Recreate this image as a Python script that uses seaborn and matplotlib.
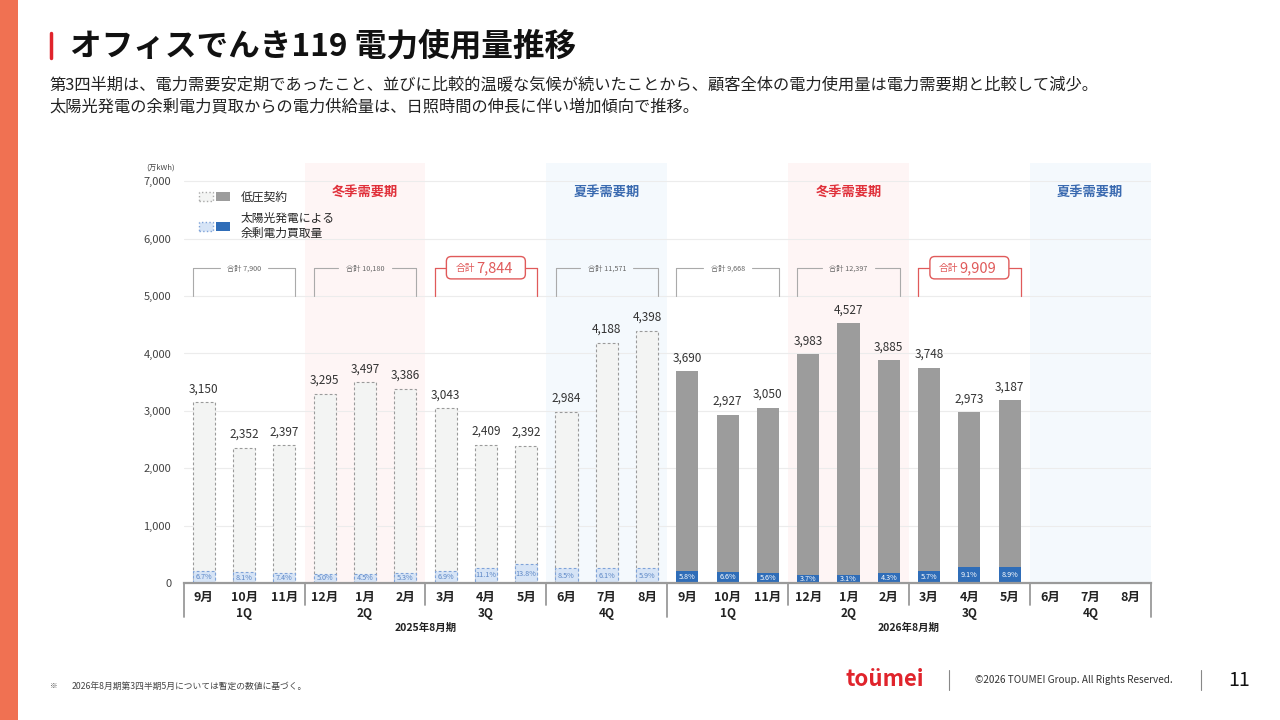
import numpy as np
import pandas as pd
import matplotlib.pyplot as plt
import seaborn as sns
from matplotlib.patches import Patch, Rectangle, FancyBboxPatch
from matplotlib.legend_handler import HandlerTuple
from matplotlib.lines import Line2D

# データ
months = ['9月', '10月', '11月', '12月', '1月', '2月', '3月', '4月', '5月', '6月', '7月', '8月']
quarters = ['1Q', '2Q', '3Q', '4Q']
fiscal_years = ['2025年8月期', '2026年8月期']
total_2025 = [3150, 2352, 2397, 3295, 3497, 3386, 3043, 2409, 2392, 2984, 4188, 4398]
solar_pct_2025 = [6.7, 8.1, 7.4, 5.0, 4.5, 5.3, 6.9, 11.1, 13.8, 8.5, 6.1, 5.9]
total_2026 = [3690, 2927, 3050, 3983, 4527, 3885, 3748, 2973, 3187]
solar_pct_2026 = [5.8, 6.6, 5.6, 3.7, 3.1, 4.3, 5.7, 9.1, 8.9]
q_sum_2025 = ['7,900', '10,180', '7,844', '11,571']
q_sum_2026 = ['9,668', '12,397', '9,909']
highlight_q = 2  # 3Q は赤枠

sns.set_theme(style='white')
plt.rcParams['font.family'] = ['Noto Sans CJK JP', 'DejaVu Sans']

# テーブル
rows = []
for i, (t, p) in enumerate(zip(total_2025, solar_pct_2025)):
    rows.append({'slot': i, 'year': 2025, 'total': t, 'pct': p, 'solar': t * p / 100})
for i, (t, p) in enumerate(zip(total_2026, solar_pct_2026)):
    rows.append({'slot': 12 + i, 'year': 2026, 'total': t, 'pct': p, 'solar': t * p / 100})
df = pd.DataFrame(rows)
order = list(range(24))

fig = plt.figure(figsize=(12.8, 7.2), dpi=100)
ax = fig.add_axes([0.1435, 0.1903, 0.7555, 0.5833])

# 需要期の背景
pink, lblue = '#fef5f5', '#f4f9fd'
for start, col in [(3, pink), (9, lblue), (15, pink), (21, lblue)]:
    ax.axvspan(start - 0.5, start + 2.5, color=col, zorder=0, lw=0)
for start, label, col in [(3, '冬季需要期', '#e0303a'), (9, '夏季需要期', '#3a6ab0'),
                          (15, '冬季需要期', '#e0303a'), (21, '夏季需要期', '#3a6ab0')]:
    ax.text(start + 1, 6810, label, ha='center', va='center', fontsize=9.5,
            color=col, fontweight='bold')

# 棒グラフ
n0 = len(ax.patches)
sns.barplot(data=df, x='slot', y='total', order=order, width=0.55, errorbar=None,
            color='#9c9c9c', saturation=1, ax=ax, zorder=2)
total_patches = ax.patches[n0:]
n1 = len(ax.patches)
sns.barplot(data=df, x='slot', y='solar', order=order, width=0.55, errorbar=None,
            color='#2f6db8', saturation=1, ax=ax, zorder=3)
solar_patches = ax.patches[n1:]

for p in total_patches:
    slot = int(round(p.get_x() + p.get_width() / 2))
    if slot < 12:
        p.set_facecolor('#f3f4f3')
        p.set_edgecolor('#9a9a9a')
        p.set_linestyle((0, (2.5, 2)))
        p.set_linewidth(0.8)
    else:
        p.set_edgecolor('none')
for p in solar_patches:
    slot = int(round(p.get_x() + p.get_width() / 2))
    if slot < 12:
        p.set_facecolor('#d6e4f6')
        p.set_edgecolor('#7fa3d8')
        p.set_linestyle((0, (2.5, 2)))
        p.set_linewidth(0.8)
    else:
        p.set_edgecolor('none')

# 値ラベル
for _, r in df.iterrows():
    ax.annotate(f"{int(r['total']):,}", (r['slot'], r['total']), xytext=(0, 5),
                textcoords='offset points', ha='center', va='bottom',
                fontsize=8.5, color='#333333', zorder=5)
    ax.text(r['slot'], r['solar'] / 2, f"{r['pct']:.1f}%", ha='center', va='center',
            fontsize=5.2, color='#5b86c5' if r['year'] == 2025 else 'white', zorder=5)

# 四半期合計の括弧
y_top, y_bot = 5485, 5010
for year_off, sums in [(0, q_sum_2025), (12, q_sum_2026)]:
    for q, s in enumerate(sums):
        x0 = year_off + q * 3 - 0.27
        x1 = year_off + q * 3 + 2.27
        c = year_off + q * 3 + 1
        if q == highlight_q:
            col = '#e05a5a'
            ax.plot([x0, c - 0.98], [y_top, y_top], color=col, lw=0.9, zorder=4)
            ax.plot([c + 0.98, x1], [y_top, y_top], color=col, lw=0.9, zorder=4)
            ax.plot([x0, x0], [y_top, y_bot], color=col, lw=0.9, zorder=4)
            ax.plot([x1, x1], [y_top, y_bot], color=col, lw=0.9, zorder=4)
            box = FancyBboxPatch((c - 0.98, 5300), 1.96, 390,
                                 boxstyle='round,pad=0,rounding_size=0.12',
                                 mutation_aspect=700, fc='white', ec=col, lw=1.0, zorder=5)
            ax.add_patch(box)
            ax.text(c - 0.27, y_top, '合計', ha='right', va='center', fontsize=7,
                    color=col, zorder=6)
            ax.text(c - 0.24, y_top, s, ha='left', va='center', fontsize=10.5,
                    color=col, zorder=6)
        else:
            col = '#aaaaaa'
            gap = 0.6 if len(s) < 6 else 0.66
            ax.plot([x0, c - gap], [y_top, y_top], color=col, lw=0.8, zorder=4)
            ax.plot([c + gap, x1], [y_top, y_top], color=col, lw=0.8, zorder=4)
            ax.plot([x0, x0], [y_top, y_bot], color=col, lw=0.8, zorder=4)
            ax.plot([x1, x1], [y_top, y_bot], color=col, lw=0.8, zorder=4)
            ax.text(c, y_top, f'合計 {s}', ha='center', va='center', fontsize=5.2,
                    color='#666666', zorder=5)

# 軸
ax.set_xlim(-0.5, 23.5)
ax.set_ylim(0, 7320)
ax.set_yticks(range(0, 7001, 1000))
ax.set_yticklabels([f'{v:,}' for v in range(0, 7001, 1000)], fontsize=8, color='#444444')
ax.set_xticks(order)
ax.set_xticklabels(months * 2, fontsize=9, color='#222222', fontweight='bold')
ax.tick_params(axis='both', length=0)
ax.tick_params(axis='x', pad=6)
ax.tick_params(axis='y', pad=9)
ax.set_xlabel('')
ax.set_ylabel('')
ax.grid(axis='y', color='#ececec', lw=0.8)
ax.set_axisbelow(True)
for sp in ['top', 'right', 'left']:
    ax.spines[sp].set_visible(False)
ax.spines['bottom'].set_color('#9a9a9a')
ax.spines['bottom'].set_linewidth(1.6)
ax.spines['bottom'].set_zorder(6)

xt = ax.get_xaxis_transform()
for k in range(8):
    ax.text(k * 3 + 1, -0.072, quarters[k % 4], transform=xt, ha='center', va='center',
            fontsize=8.5, color='#222222', fontweight='bold')
for k, fy in enumerate(fiscal_years):
    ax.text(k * 12 + 5.5, -0.107, fy, transform=xt, ha='center', va='center',
            fontsize=7.5, color='#222222', fontweight='bold')
for b in np.arange(-0.5, 24, 3):
    long_line = (b % 12) == 11.5
    ax.plot([b, b], [0, -0.081 if long_line else -0.052], transform=xt, color='#9a9a9a',
            lw=1.3, clip_on=False, zorder=6)

# 凡例
handles = [(Patch(facecolor='#f3f4f3', edgecolor='#aaaaaa', linestyle=':'),
            Patch(facecolor='#9c9c9c', edgecolor='none')),
           (Patch(facecolor='#d6e4f6', edgecolor='#7fa3d8', linestyle=':'),
            Patch(facecolor='#2f6db8', edgecolor='none'))]
ax.legend(handles, ['低圧契約', '太陽光発電による\n余剰電力買取量'],
          handler_map={tuple: HandlerTuple(ndivide=None, pad=0.2)},
          loc='upper left', bbox_to_anchor=(0.005, 0.96), frameon=False,
          fontsize=8.5, handlelength=2.6, handleheight=0.8, labelspacing=0.7,
          handletextpad=0.9)

fig.text(146 / 1280, 1 - 168 / 720, '(万kWh)', fontsize=5.5, color='#444444',
         ha='left', va='center')

# タイトル・説明
fig.add_artist(Rectangle((0, 0), 18 / 1280, 1, transform=fig.transFigure,
                         color='#f07152', lw=0))
fig.add_artist(Line2D([51 / 1280, 51 / 1280], [1 - 33 / 720, 1 - 58 / 720],
                      transform=fig.transFigure, color='#e0242c', lw=2.5))
fig.text(70 / 1280, 1 - 46 / 720, 'オフィスでんき119 電力使用量推移', fontsize=22.8,
         fontweight='bold', color='#111111', ha='left', va='center')
fig.text(49 / 1280, 1 - 85 / 720,
         '第3四半期は、電力需要安定期であったこと、並びに比較的温暖な気候が続いたことから、'
         '顧客全体の電力使用量は電力需要期と比較して減少。',
         fontsize=11.7, color='#222222', ha='left', va='center')
fig.text(49 / 1280, 1 - 107 / 720,
         '太陽光発電の余剰電力買取からの電力供給量は、日照時間の伸長に伴い増加傾向で推移。',
         fontsize=11.7, color='#222222', ha='left', va='center')

# フッター
fig.text(50 / 1280, 1 - 686 / 720, '※', fontsize=5.5, color='#444444', ha='left', va='center')
fig.text(72 / 1280, 1 - 686 / 720, '2026年8月期第3四半期5月については暫定の数値に基づく。',
         fontsize=6.3, color='#444444', ha='left', va='center')
fig.text(885 / 1280, 1 - 679 / 720, 'toümei', fontsize=16, fontweight='bold',
         color='#e0242c', ha='center', va='center')
for xs in [949, 1201]:
    fig.add_artist(Line2D([xs / 1280, xs / 1280], [1 - 670 / 720, 1 - 690 / 720],
                          transform=fig.transFigure, color='#888888', lw=0.8))
fig.text(975 / 1280, 1 - 680 / 720, '©2026 TOUMEI Group. All Rights Reserved.',
         fontsize=7.2, color='#333333', ha='left', va='center')
fig.text(1239 / 1280, 1 - 680 / 720, '11', fontsize=14, color='#111111',
         ha='center', va='center')

fig.savefig('out.png', dpi=100, facecolor='white')
